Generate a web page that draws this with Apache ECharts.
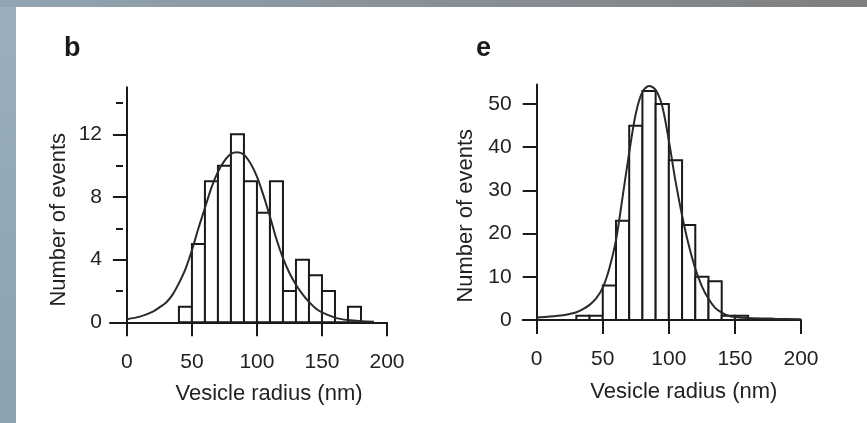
<!DOCTYPE html>
<html><head><meta charset="utf-8">
<script src="https://cdn.jsdelivr.net/npm/echarts@6/dist/echarts.min.js"></script>
<style>
html,body{margin:0;padding:0;width:867px;height:423px;overflow:hidden;background:#fff;}
#bg{position:absolute;left:0;top:0;width:867px;height:423px;background:linear-gradient(180deg,#9bafbc,#8ca2af);}
#topstrip{position:absolute;left:0;top:0;width:867px;height:7px;background:linear-gradient(90deg,#92a5b2 0%,#89929a 45%,#7f7f7f 100%);}
#panel{position:absolute;left:16px;top:7px;width:851px;height:416px;background:#fff;}
#chart{position:absolute;left:0;top:0;width:867px;height:423px;}
</style></head><body>
<div id="bg"></div><div id="topstrip"></div><div id="panel"></div><div id="chart"></div>
<script>
// ---- data ----
const binWidth = 10;
const panelLabels = ['b', 'e'];
const xName = 'Vesicle radius (nm)';
const yName = 'Number of events';
const xTicks = [0, 50, 100, 150, 200];

// panel b
const binStartsB = [40, 50, 60, 70, 80, 90, 100, 110, 120, 130, 140, 150, 160, 170];
const countsB    = [1, 5, 9, 10, 12, 9, 7, 9, 2, 4, 3, 2, 0, 1];
const fitXB = [0, 10, 20, 25, 30, 35, 40, 45, 50, 55, 60, 65, 70, 75, 80, 85, 90, 95, 100, 105, 110, 115, 120, 125, 130, 135, 140, 145, 150, 160, 170, 180, 190];
const fitYB = [0.2, 0.36, 0.68, 0.95, 1.25, 1.75, 2.5, 3.4, 4.6, 6.0, 7.3, 8.6, 9.6, 10.3, 10.75, 10.85, 10.7, 10.15, 9.3, 8.1, 6.75, 5.3, 4.1, 3.15, 2.4, 1.8, 1.3, 0.9, 0.63, 0.3, 0.14, 0.07, 0.04];
const yTicksB = [0, 4, 8, 12];
const yMinorTicksB = [2, 6, 10, 14];

// panel e
const binStartsE = [30, 40, 50, 60, 70, 80, 90, 100, 110, 120, 130, 140, 150];
const countsE    = [1, 1, 8, 23, 45, 53, 50, 37, 22, 10, 9, 1, 1];
const fitXE = [0, 10, 20, 25, 30, 35, 40, 45, 50, 55, 60, 65, 70, 75, 80, 85, 90, 95, 100, 105, 110, 115, 120, 125, 130, 135, 140, 145, 150, 160, 180, 200];
const fitYE = [0.6, 0.8, 1.1, 1.4, 1.8, 2.5, 3.5, 5.0, 7.5, 12, 18.5, 28.5, 38.8, 47.8, 52.8, 54.2, 53.3, 49.5, 41.5, 32.2, 24.2, 17.4, 11.9, 7.8, 4.9, 2.8, 1.7, 1.0, 0.7, 0.45, 0.3, 0.2];
const yTicksE = [0, 10, 20, 30, 40, 50];

// ---- chart ----
const FONT = 'Liberation Sans, Arial, sans-serif';
const INK = '#1a1a1a';
const TXT = '#222';

function histRender(params, api) {
  const p0 = api.coord([api.value(0), api.value(2)]);
  const p1 = api.coord([api.value(1), 0]);
  return {
    type: 'rect',
    shape: { x: p0[0], y: p0[1], width: p1[0] - p0[0], height: p1[1] - p0[1] },
    style: { fill: '#fff', stroke: INK, lineWidth: 2 }
  };
}
function binsData(starts, counts) {
  return starts.map((s, i) => [s, s + binWidth, counts[i]]);
}
function lineData(xs, ys) { return xs.map((x, i) => [x, ys[i]]); }

function xAxisCfg(grid, min, padLeft) {
  return {
    gridIndex: grid, type: 'value', min: min, max: 200,
    axisLine: { show: true, onZero: false, lineStyle: { color: INK, width: 2 } },
    axisTick: { show: true, length: 14, customValues: xTicks, lineStyle: { color: INK, width: 2 } },
    axisLabel: { customValues: xTicks, margin: 29, fontSize: 21, color: TXT, fontFamily: FONT },
    splitLine: { show: false },
    name: xName, nameLocation: 'middle', nameGap: 61,
    nameTextStyle: { fontSize: 22, color: TXT, fontFamily: FONT, padding: [0, 0, 0, padLeft] }
  };
}

const option = {
  animation: false,
  backgroundColor: 'transparent',
  title: [
    { text: panelLabels[0], left: 64, top: 35, padding: 0, textStyle: { fontSize: 27, fontWeight: 'bold', color: INK, fontFamily: FONT } },
    { text: panelLabels[1], left: 476, top: 35, padding: 0, textStyle: { fontSize: 27, fontWeight: 'bold', color: INK, fontFamily: FONT } }
  ],
  grid: [
    { left: 110, right: 480, top: 87.3, bottom: 100.7, outerBoundsMode: 'none', containLabel: false },
    { left: 522.7, right: 66, top: 84.6, bottom: 103, outerBoundsMode: 'none', containLabel: false }
  ],
  xAxis: [ xAxisCfg(0, -13, 41), xAxisCfg(1, -10.6, 44) ],
  yAxis: [
    {
      gridIndex: 0, type: 'value', position: 'left', min: 0, max: 15, offset: -13,
      axisLine: { show: true, lineStyle: { color: INK, width: 2 } },
      axisTick: { show: true, length: 14, customValues: yTicksB, lineStyle: { color: INK, width: 2 } },
      axisLabel: { customValues: yTicksB, margin: 21, fontSize: 21, color: TXT, fontFamily: FONT },
      splitLine: { show: false },
      name: yName, nameLocation: 'middle', nameGap: 53,
      nameTextStyle: { fontSize: 22, color: TXT, fontFamily: FONT, padding: [0, 30, 0, 0] }
    },
    {
      gridIndex: 0, type: 'value', position: 'left', min: 0, max: 15, offset: -13,
      axisLine: { show: false },
      axisTick: { show: true, length: 7, customValues: yMinorTicksB, lineStyle: { color: INK, width: 2 } },
      axisLabel: { show: false },
      splitLine: { show: false }
    },
    {
      gridIndex: 1, type: 'value', position: 'left', min: 0, max: 54.5, offset: -14,
      axisLine: { show: true, lineStyle: { color: INK, width: 2 } },
      axisTick: { show: true, length: 14, customValues: yTicksE, lineStyle: { color: INK, width: 2 } },
      axisLabel: { customValues: yTicksE, margin: 25, fontSize: 21, color: TXT, fontFamily: FONT },
      splitLine: { show: false },
      name: yName, nameLocation: 'middle', nameGap: 60,
      nameTextStyle: { fontSize: 22, color: TXT, fontFamily: FONT, padding: [0, 27, 0, 0] }
    }
  ],
  series: [
    { type: 'custom', xAxisIndex: 0, yAxisIndex: 0, renderItem: histRender,
      encode: { x: [0, 1], y: 2 }, data: binsData(binStartsB, countsB), z: 2 },
    { type: 'line', xAxisIndex: 0, yAxisIndex: 0, data: lineData(fitXB, fitYB),
      showSymbol: false, smooth: 0.3, lineStyle: { color: '#2a2a2a', width: 2 }, z: 3 },
    { type: 'custom', xAxisIndex: 1, yAxisIndex: 2, renderItem: histRender,
      encode: { x: [0, 1], y: 2 }, data: binsData(binStartsE, countsE), z: 2 },
    { type: 'line', xAxisIndex: 1, yAxisIndex: 2, data: lineData(fitXE, fitYE),
      showSymbol: false, smooth: 0.3, lineStyle: { color: '#2a2a2a', width: 2 }, z: 3 }
  ]
};
const chart = echarts.init(document.getElementById('chart'), null, { renderer: 'canvas' });
chart.setOption(option);
</script>
</body></html>
